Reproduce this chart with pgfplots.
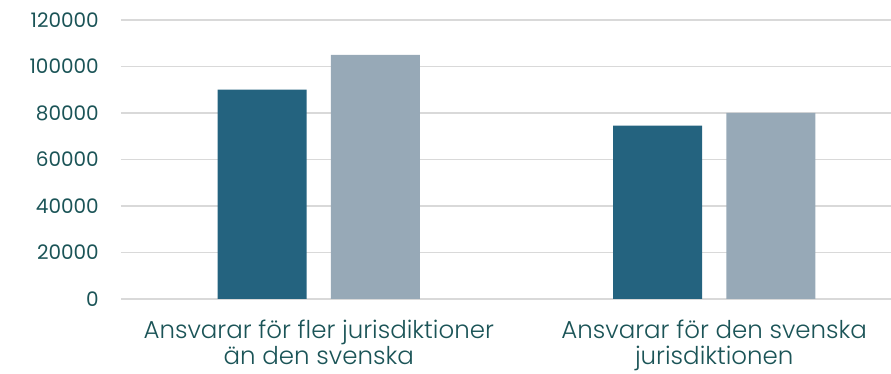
\documentclass[border=0pt]{standalone}
\usepackage{fontspec}
\usepackage{pgfplots}
\pgfplotsset{compat=1.18}
\setmainfont{Poppins}
\newfontfamily\catfont{Poppins Light}
\definecolor{txt}{HTML}{1B5457}
\definecolor{barA}{HTML}{24637F}
\definecolor{barB}{HTML}{97A9B7}
\definecolor{grd}{HTML}{D9D9D9}
\begin{document}
\begin{tikzpicture}
\begin{axis}[
  scale only axis, width=770pt, height=279pt,
  xmin=-0.5, xmax=1.447, ymin=0, ymax=120000,
  axis line style={draw=none},
  major tick length=0pt,
  ytick={0,20000,40000,60000,80000,100000,120000},
  yticklabels={0,20000,40000,60000,80000,100000,120000},
  ymajorgrids, grid style={grd, line width=1.3pt},
  xtick={0,1},
  xticklabels={{Ansvarar för fler jurisdiktioner\\än den svenska},{Ansvarar för den svenska\\jurisdiktionen}},
  xticklabel style={font=\catfont\fontsize{24.5}{26}\selectfont, color=txt, align=center, anchor=north, inner sep=0pt, yshift=-21pt},
  yticklabel style={font=\fontsize{20}{22}\selectfont, color=txt, anchor=east, inner sep=0pt, xshift=-22pt},
  scaled y ticks=false,
  ybar, bar width=0.225,
]
\addplot[fill=barA, draw=none, bar shift=-0.143] coordinates {(0,90000) (1,74600)};
\addplot[fill=barB, draw=none, bar shift=0.143] coordinates {(0,105000) (1,80000)};
\end{axis}
\pgfresetboundingbox
\useasboundingbox (-121pt,-75pt) rectangle (770pt,299pt);
\end{tikzpicture}
\end{document}
